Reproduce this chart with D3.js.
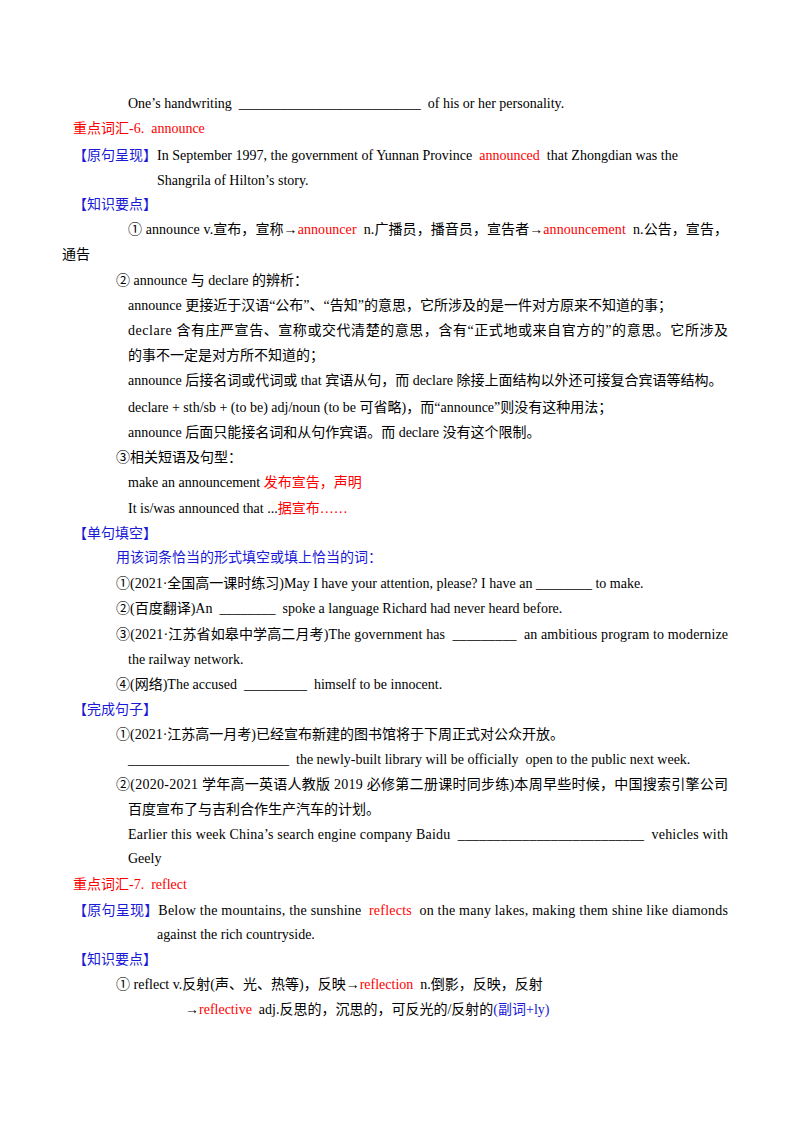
<!DOCTYPE html>
<html lang="zh">
<head>
<meta charset="utf-8">
<script src="https://d3js.org/d3.v7.min.js"></script>
<style>
  body { margin: 0; background: #fff; }
  text { font-family: "Liberation Serif", "Noto Sans CJK SC", serif; font-size: 14px; }
</style>
</head>
<body>
<script>
// each row: [x, y, justifyTo or 0, segments]; segment = [text, colourKey]
var R = "r", B = "b", K = "k";
var rows = [
  [128, 103, 0, [["One’s handwriting  __________________________  of his or her personality.", K]]],
  [73, 128, 0, [["重点词汇-6.  announce", R]]],
  [73, 155, 0, [["【原句呈现】", B], ["In September 1997, the government of Yunnan Province  ", K], ["announced", R], ["  that Zhongdian was the", K]]],
  [157, 180, 0, [["Shangrila of Hilton’s story.", K]]],
  [73, 204, 0, [["【知识要点】", B]]],
  [128, 229, 728, [["① announce v.宣布，宣称→", K], ["announcer", R], ["  n.广播员，播音员，宣告者→", K], ["announcement", R], ["  n.公告，宣告，", K]]],
  [62, 254, 0, [["通告", K]]],
  [116, 280, 0, [["② announce 与 declare 的辨析：", K]]],
  [128, 305, 0, [["announce 更接近于汉语“公布”、“告知”的意思，它所涉及的是一件对方原来不知道的事；", K]]],
  [128, 330, 728, [["declare 含有庄严宣告、宣称或交代清楚的意思，含有“正式地或来自官方的”的意思。它所涉及", K]]],
  [128, 355, 0, [["的事不一定是对方所不知道的；", K]]],
  [128, 380, 0, [["announce 后接名词或代词或 that 宾语从句，而 declare 除接上面结构以外还可接复合宾语等结构。", K]]],
  [128, 407, 0, [["declare + sth/sb + (to be) adj/noun (to be 可省略)，而“announce”则没有这种用法；", K]]],
  [128, 432, 0, [["announce 后面只能接名词和从句作宾语。而 declare 没有这个限制。", K]]],
  [116, 457, 0, [["③相关短语及句型：", K]]],
  [128, 482, 0, [["make an announcement ", K], ["发布宣告，声明", R]]],
  [128, 508, 0, [["It is/was announced that ...", K], ["据宣布……", R]]],
  [73, 533, 0, [["【单句填空】", B]]],
  [116, 557, 0, [["用该词条恰当的形式填空或填上恰当的词：", B]]],
  [116, 583, 0, [["①(2021·全国高一课时练习)May I have your attention, please? I have an ________ to make.", K]]],
  [116, 608, 0, [["②(百度翻译)An  ________  spoke a language Richard had never heard before.", K]]],
  [116, 634, 728, [["③(2021·江苏省如皋中学高二月考)The government has  _________  an ambitious program to modernize", K]]],
  [128, 659, 0, [["the railway network.", K]]],
  [116, 684, 0, [["④(网络)The accused  _________  himself to be innocent.", K]]],
  [73, 709, 0, [["【完成句子】", B]]],
  [116, 734, 0, [["①(2021·江苏高一月考)已经宣布新建的图书馆将于下周正式对公众开放。", K]]],
  [128, 759, 0, [["_______________________  the newly-built library will be officially  open to the public next week.", K]]],
  [116, 784, 728, [["②(2020-2021 学年高一英语人教版 2019 必修第二册课时同步练)本周早些时候，中国搜索引擎公司", K]]],
  [128, 809, 0, [["百度宣布了与吉利合作生产汽车的计划。", K]]],
  [128, 834, 728, [["Earlier this week China’s search engine company Baidu  __________________________  vehicles with", K]]],
  [128, 858, 0, [["Geely", K]]],
  [73, 884, 0, [["重点词汇-7.  reflect", R]]],
  [73, 910, 728, [["【原句呈现】", B], ["Below the mountains, the sunshine  ", K], ["reflects", R], ["  on the many lakes, making them shine like diamonds", K]]],
  [157, 934, 0, [["against the rich countryside.", K]]],
  [73, 959, 0, [["【知识要点】", B]]],
  [116, 984, 0, [["① reflect v.反射(声、光、热等)，反映→", K], ["reflection", R], ["  n.倒影，反映，反射", K]]],
  [185, 1009, 0, [["→", K], ["reflective", R], ["  adj.反思的，沉思的，可反光的/反射的", K], ["(副词+ly)", B]]]
];
var colours = { k: "#000000", r: "#ff0000", b: "#1a1ad6" };

var width = 800, height = 1132;
var svg = d3.select("body").append("svg")
  .attr("width", width).attr("height", height);

var t = svg.selectAll("text.row")
  .data(rows)
  .enter().append("text")
  .attr("class", "row")
  .attr("x", function(d) { return d[0]; })
  .attr("y", function(d) { return d[1] + 5; })
  .style("white-space", "pre")
  .attr("xml:space", "preserve");

t.selectAll("tspan")
  .data(function(d) { return d[3]; })
  .enter().append("tspan")
  .attr("fill", function(s) { return colours[s[1]]; })
  .text(function(s) { return s[0]; });

// stretch the full-width lines so they end on the right margin
t.filter(function(d) { return d[2] > 0; })
  .attr("textLength", function(d) { return d[2] - d[0]; })
  .attr("lengthAdjust", "spacing");
</script>
</body>
</html>
